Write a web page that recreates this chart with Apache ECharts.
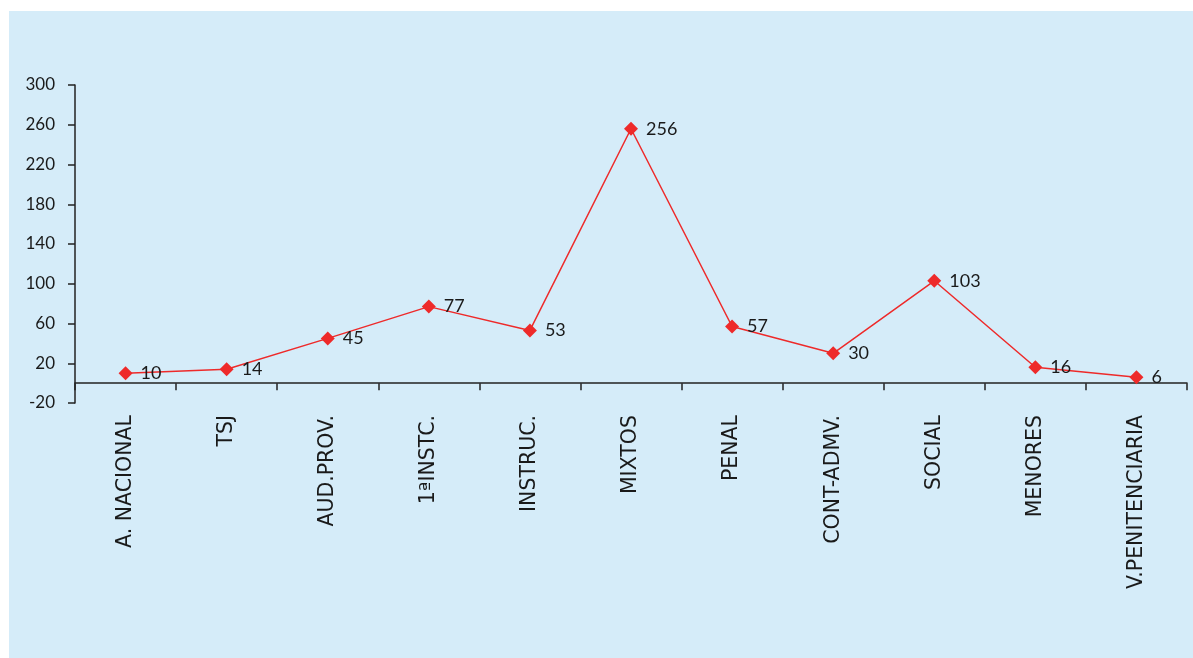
<!DOCTYPE html>
<html>
<head>
<meta charset="utf-8">
<script src="https://cdn.jsdelivr.net/npm/echarts@6/dist/echarts.min.js"></script>
<style>
html,body{margin:0;padding:0;background:#ffffff;}
#chart{width:1193px;height:658px;}
</style>
</head>
<body>
<div id="chart"></div>
<script>
const categories = ["A. NACIONAL", "TSJ", "AUD.PROV.", "1ªINSTC.", "INSTRUC.", "MIXTOS", "PENAL", "CONT-ADMV.", "SOCIAL", "MENORES", "V.PENITENCIARIA"];
const values = [10, 14, 45, 77, 53, 256, 57, 30, 103, 16, 6];

const chart = echarts.init(document.getElementById('chart'));
const FONT = 'Lato';
chart.setOption({
  animation: false,
  backgroundColor: '#ffffff',
  graphic: [{
    type: 'rect', z: -10, silent: true,
    shape: { x: 9, y: 11, width: 1184, height: 647 },
    style: { fill: '#d5ecf9' }
  }],
  grid: { left: 75, right: 6, top: 85, bottom: 255, containLabel: false },
  xAxis: {
    type: 'category',
    data: categories,
    boundaryGap: true,
    axisLine: { onZero: true, lineStyle: { color: '#222222', width: 1.5 } },
    axisTick: { show: true, alignWithLabel: false, length: 7, inside: false, lineStyle: { color: '#222222', width: 1.5 } },
    axisLabel: { rotate: 90, margin: 12, color: '#1a1a1a', fontFamily: 'DejaVu Sans', fontSize: 20.5, interval: 0 },
    splitLine: { show: false }
  },
  yAxis: {
    type: 'value',
    min: -20, max: 300, interval: 40,
    axisLine: { show: true, lineStyle: { color: '#222222', width: 1.5 } },
    axisTick: { show: true, length: 7, lineStyle: { color: '#222222', width: 1.5 } },
    axisLabel: { margin: 20, color: '#1a1a1a', fontFamily: FONT, fontSize: 17 },
    splitLine: { show: false }
  },
  series: [{
    type: 'line',
    data: values,
    symbol: 'diamond',
    symbolSize: 14,
    itemStyle: { color: '#ee2a2a' },
    lineStyle: { color: '#ee2a2a', width: 1.5 },
    label: { show: true, position: 'right', distance: 8, color: '#1a1a1a', fontFamily: FONT, fontSize: 18 }
  }]
});
</script>
</body>
</html>
